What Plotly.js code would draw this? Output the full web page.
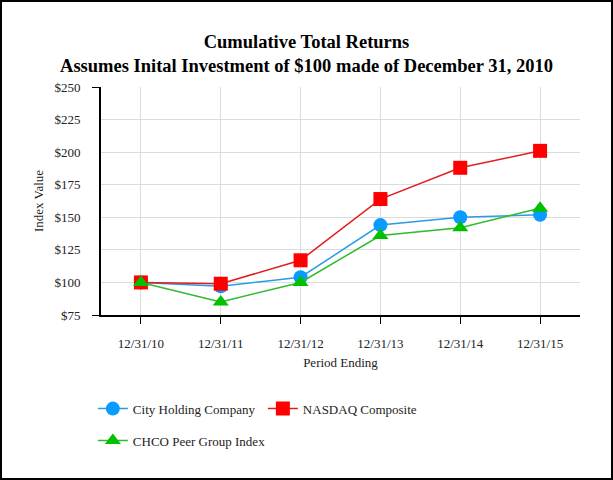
<!DOCTYPE html>
<html>
<head>
<meta charset="utf-8">
<script src="https://cdn.plot.ly/plotly-3.0.1.min.js"></script>
<style>
  html, body { margin: 0; padding: 0; background: #fff; }
  #wrap { position: relative; width: 613px; height: 480px; }
  #chart { width: 613px; height: 480px; }
  #frame { position: absolute; left: 0; top: 0; width: 613px; height: 480px;
           box-sizing: border-box; border: 2px solid #000; pointer-events: none; }
</style>
</head>
<body>
<div id="wrap">
  <div id="chart"></div>
  <div id="frame"></div>
</div>
<script>
const periods = ['12/31/10', '12/31/11', '12/31/12', '12/31/13', '12/31/14', '12/31/15'];
const cityHolding = [100, 97, 104, 144, 150, 152];
const nasdaq = [100, 99, 117, 164, 188, 201];
const peerGroup = [100, 85, 100, 136, 142, 157];
const yTicks = [75, 100, 125, 150, 175, 200, 225, 250];
const yTickText = ['$75', '$100', '$125', '$150', '$175', '$200', '$225', '$250'];

const serif = 'Liberation Serif, Times New Roman, serif';

const traces = [
    {
        x: periods, y: cityHolding, name: 'City Holding Company',
        type: 'scatter', mode: 'lines+markers',
        line: {color: '#2b9be8', width: 1.5},
        marker: {symbol: 'circle', size: 14, color: '#0a9bff'},
        legend: 'legend',
    },
    {
        x: periods, y: nasdaq, name: 'NASDAQ Composite',
        type: 'scatter', mode: 'lines+markers',
        line: {color: '#e21c1c', width: 1.5},
        marker: {symbol: 'square', size: 14, color: '#ff0000'},
        legend: 'legend',
    },
    {
        x: periods, y: peerGroup, name: 'CHCO Peer Group Index',
        type: 'scatter', mode: 'lines+markers',
        line: {color: '#2fba2f', width: 1.5},
        marker: {symbol: 'triangle-up', size: 14, color: '#00c000'},
        legend: 'legend2',
    },
    // invisible helper so the end ticks of the y axis can be drawn
    {
        x: periods, y: cityHolding, yaxis: 'y2', type: 'scatter', mode: 'none',
        showlegend: false, hoverinfo: 'skip',
    },
];

const layout = {
    width: 613,
    height: 480,
    margin: {l: 101, r: 33, t: 87, b: 165},
    paper_bgcolor: '#fff',
    plot_bgcolor: '#fff',
    font: {family: serif, size: 13, color: '#222'},
    title: {
        text: 'Cumulative Total Returns<br>Assumes Inital Investment of $100 made of December 31, 2010',
        font: {family: serif, size: 18.5, color: '#000', weight: 'bold'},
        x: 0.5, xref: 'container', xanchor: 'center',
        y: 0.9, yref: 'container', yanchor: 'top',
    },
    xaxis: {
        type: 'category',
        range: [-0.5, 5.5],
        showgrid: true, gridcolor: '#dcdcdc', gridwidth: 1,
        showline: true, linecolor: '#000', linewidth: 2,
        ticks: 'outside', ticklen: 7, tickcolor: '#000', tickwidth: 1,
        tickfont: {family: serif, size: 13, color: '#222'},
        ticklabelstandoff: 8,
        zeroline: false,
        title: {text: 'Period Ending', font: {family: serif, size: 13, color: '#222'}, standoff: 8},
    },
    yaxis: {
        range: [75, 250],
        tickvals: yTicks, ticktext: yTickText,
        showgrid: true, gridcolor: '#dcdcdc', gridwidth: 1,
        showline: true, linecolor: '#000', linewidth: 2,
        ticks: '', zeroline: false,
        tickfont: {family: serif, size: 13, color: '#222'},
        ticklabelstandoff: 16,
        title: {text: 'Index Value', font: {family: serif, size: 13, color: '#222'}, standoff: 8},
    },
    yaxis2: {
        overlaying: 'y', matches: 'y', side: 'left',
        tickvals: [75, 250], showticklabels: false,
        ticks: 'outside', ticklen: 8, tickcolor: '#000', tickwidth: 1,
        showgrid: false, zeroline: false, showline: false,
    },
    legend: {
        orientation: 'h', x: -0.017, xanchor: 'left', y: -0.345, yanchor: 'top',
        font: {family: serif, size: 13, color: '#222'},
        entrywidth: 125, entrywidthmode: 'pixels',
        bgcolor: 'rgba(0,0,0,0)',
    },
    legend2: {
        orientation: 'h', x: -0.017, xanchor: 'left', y: -0.485, yanchor: 'top',
        font: {family: serif, size: 13, color: '#222'},
        bgcolor: 'rgba(0,0,0,0)',
    },
    showlegend: true,
    hovermode: false,
};

Plotly.newPlot('chart', traces, layout, {displayModeBar: false, staticPlot: true});
</script>
</body>
</html>
